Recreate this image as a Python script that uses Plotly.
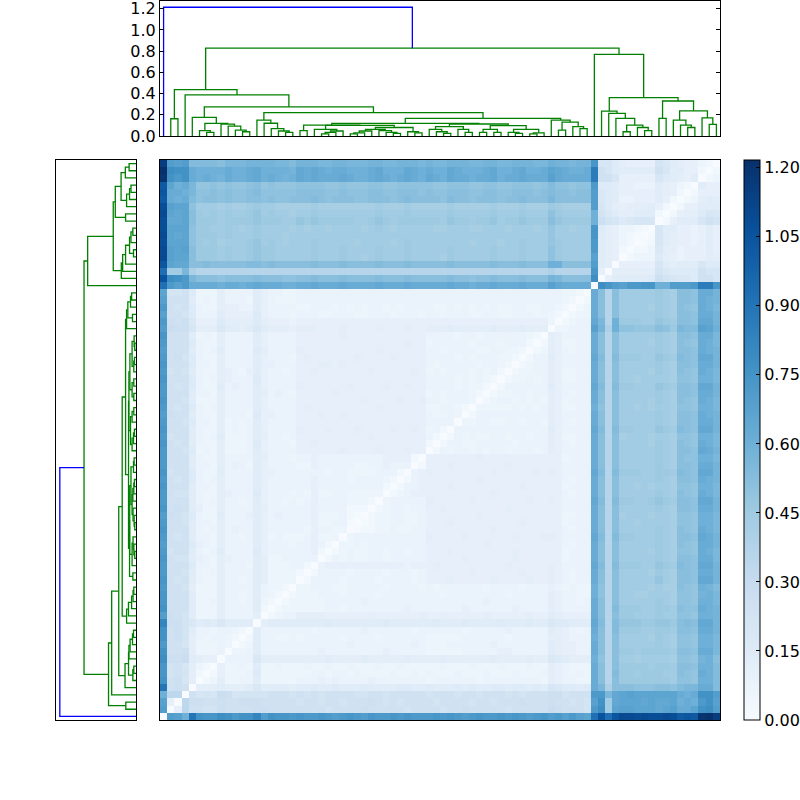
import plotly.graph_objects as go

# ---------- data ----------
LEVEL_CHARS = "0123456789abcdefghijklmnopqrstuvwxyzABCDEFGHIJKLMNOPQRSTUVWXYZ"
LEVEL_STEP = 0.02
GROUP_ENDS = [1, 4, 13, 19, 37, 54, 60, 61, 69, 78]
# upper triangle of the distance matrix, one row per leaf, columns from the diagonal onward
MATRIX_ROWS = [
"0 zyu JCBBDCACC FzCBBA BAABAzABAzBAABABAA ABABAzABAABABAzAB zAyAyx K RKQTTSTS STSPQPYZW",
"05h ccbbdcccc ddcccc ccccbccccdcccccbcc ccbccdcccccbccccc edcccb A Dmxyyxxx wxyvvxCDz",
"0h ddccdccdd dccccc bccbccbcccdcbcbccc cbccccbccbcccdccc dccbcb y Cmwxxxwx wwxuvuACy",
"0 cabaedabb bbcccb cbcbccccbbccbccccc bcccbccbcccbcbccc ddbccc A Aswxyxxx xxxvuvCCz",
"066676667 977776 778778777877778877 87778787788788787 a98878 v skqqqppp qqprssvvr",
"02363344 733333 444545444454444444 34444443444444443 654433 v qiqnnnnn nnmppouur",
"0253334 833333 334434434333343343 43334333433343334 654343 v qirnnmnn nmmqpovur",
"053343 733433 343343343334334333 33433343334333433 654333 v qiqnnnnm nnmqqpuur",
"04444 966666 666676666766666766 66766666676666766 987666 u piqmmlmm mmlppotuq",
"0334 744444 444544444444544444 33333444445544444 765544 v qiqnnmnn nnmqqpvvs",
"023 744444 444444454444444454 33344444454444444 765544 v qiqmmmmm nmlppouus",
"02 744334 344444344443444444 33333444444344444 665444 u qiqmmmml nmlppouus",
"0 744444 443444444544444434 44444344444544444 765434 v qirnnnmm nnmqqpvvt",
"067777 777787777777877777 78777877778777877 988777 w rirooonn oonqrqwwt",
"02344 666655555565555556 55655555655555655 765555 v qiqnnmmm nmmppouut",
"0233 333344344444444544 44444544444454444 654444 v qirnnnmm nnmqppvut",
"023 333344444544444444 44444444544444444 654434 v qiqmmmmm nmlppouus",
"02 333444344443444444 44344444444344444 654433 u piqmmllm mmlppotus",
"0 334443344444344443 43444444344443444 543433 u piqmmmml mllqpoutr",
"024444344443444434 55565555565555655 654344 v qiqmmmmm omlqqpwwt",
"02444434444344434 55555565555556555 654344 v qiqmmmml nmlqqpvvt",
"0455555555555455 56555555555655555 654444 w rirnnnmm onmrqpwwt",
"024343344344444 55555655555565555 553444 v qiqmmmmm nmlqqpvvs",
"02343344344344 55565555555565555 553444 v qiqmmmml nmlppovus",
"0334344444444 55555555655555555 554344 v qiqmmmmm nmlqpovvt",
"034444444444 65555655555565556 654444 w rirnnmmm nmlqqpwvt",
"01223343344 55555555565555555 554344 v qiqmmmmm nmlqpovus",
"0123344334 55565555555556555 553444 v qiqmmlmm mmlppouus",
"023344334 55555556555555555 553344 v qiqlmmml mmlppouus",
"02344344 55655555555655555 554444 v qiqmmmmm nmlqqpvvt",
"0344444 65555565555555655 654444 w rirnnmmn onmqqpwwt",
"023455 55555555565555555 554344 v qiqmmmmm nmlqpovus",
"02445 55565555555556555 553444 v qiqmmlml mmlppouus",
"0245 55555556555555555 554344 v qiqmmmmm nmlqqpvut",
"045 65555555565555565 654444 w rirnnnmm nnmrqpwwt",
"02 55565555555655555 554444 v qiqmmmmm nmlqqpvvt",
"0 55555556555555555 553444 v qiqmmmmm nmlqppuus",
"02434434344344434 654444 v qiqmmmmm nmlqqpwvt",
"0244334444434444 654344 v qiqmmmml nmlqpovus",
"024343344344344 653344 v qiqlmmml mmlppouus",
"04444444444444 754444 w rirnnmmm onmrqpwwt",
"0334433443443 654344 v qiqmmmmm nmlqqpvvt",
"024444444444 654444 v qiqmmmmm nmlqqpvut",
"03333343434 653344 u piqmmlml mmlppouus",
"0234434343 653444 v qiqmmmml nmlqpovus",
"023344344 654344 v qiqmmmmm nmlqqpvvt",
"02444444 754444 w rirnnmmm onmqqpwwt",
"0233434 653344 v qiqmmlmm mmlppouus",
"023344 653344 v qiqmmmml nmlqpovus",
"02344 654444 v qiqmmmmm nmlqqpvvt",
"0244 754444 w rirnnnmm onmrqpwwt",
"023 654344 v qiqmmmmm nmlqqpvut",
"02 653344 v qiqmmmml nmlqpovus",
"0 654444 v qiqmmmmm nmlqqpvvs",
"033444 y tkuppooo qpnsrryxu",
"02344 w siunnnmm onmqqpwwt",
"0233 v qiqmmmmm nmlqqpvvt",
"023 v qiqmmmml nmlqpovus",
"02 v qiqmmmmm nmlqqpvut",
"0 v qiqmmmmm nmlqqpvvt",
"0 DBzyAABB uuzzzAHHB",
"05777778 dba998cca",
"0666666 b98888caa",
"055555 a76777a88",
"02333 865455576",
"0223 966455575",
"012 a76554575",
"01 a76554575",
"0 a77554575",
"025777acb",
"025668a9",
"0255777",
"023676",
"02555",
"0755",
"023",
"02",
"0",
]

LEAF = None
G1 = (0.175, LEAF, (0.119, (0.05, LEAF, (0.035, LEAF, LEAF)),
      (0.1125, LEAF, (0.094, LEAF, (0.056, LEAF, (0.04, LEAF, LEAF))))))
G2 = (0.15, LEAF, (0.12, LEAF, (0.07, LEAF, (0.047, LEAF, (0.035, LEAF, LEAF)))))
G3_N1 = (0.0625, LEAF, (0.047, (0.034, (0.02, LEAF, LEAF), LEAF), LEAF))
G3_N4 = (0.0625, (0.047, (0.03, (0.02, LEAF, LEAF), LEAF), LEAF),
         (0.05, LEAF, (0.035, LEAF, (0.025, LEAF, LEAF))))
G3_N5 = (0.04, LEAF, (0.03, LEAF, LEAF))
G3_A = (0.103, (0.05, LEAF, LEAF), (0.1, G3_N1, (0.08, G3_N4, G3_N5)))
G3_R = (0.0875, (0.0625, LEAF, (0.04, LEAF, (0.025, LEAF, LEAF))),
        (0.0625, LEAF, (0.035, LEAF, LEAF)))
G3_X = (0.097, (0.0625, (0.035, LEAF, LEAF), (0.035, LEAF, LEAF)),
        (0.0625, (0.035, LEAF, (0.025, LEAF, LEAF)), (0.03, (0.02, LEAF, LEAF), LEAF)))
G3 = (0.119, G3_A, (0.113, G3_R, G3_X))
G4 = (0.15, LEAF, (0.13, (0.056, LEAF, LEAF), (0.0875, LEAF, (0.07, LEAF, LEAF))))
MAIN = (0.4375, (0.1625, LEAF, LEAF),
        (0.3875, LEAF, (0.275, G1, (0.22, G2, (0.166, G3, G4)))))
RIGHT_A = (0.234, LEAF, (0.2125, LEAF, (0.166, LEAF,
           (0.103, (0.04, LEAF, LEAF), (0.08, LEAF, (0.05, LEAF, LEAF))))))
RIGHT_B = (0.33, (0.166, LEAF, LEAF), (0.2375,
           (0.15, LEAF, (0.103, LEAF, (0.08, LEAF, LEAF))),
           (0.17, LEAF, (0.11, LEAF, LEAF))))
TREE = (1.214, LEAF, (0.828, MAIN, (0.77, LEAF, (0.3625, RIGHT_A, RIGHT_B))))

TOP_TICKS = [0, 0.2, 0.4, 0.6, 0.8, 1.0, 1.2]
CBAR_TICKS = [0, 0.15, 0.3, 0.45, 0.6, 0.75, 0.9, 1.05, 1.2]
ZMAX = 1.217
BLUES = ["#f7fbff", "#deebf7", "#c6dbef", "#9ecae1", "#6baed6", "#4292c6", "#2171b5", "#08519c", "#08306b"]

# ---------- build ----------
n = len(MATRIX_ROWS)
z = [[0.0] * n for _ in range(n)]
for i, row in enumerate(MATRIX_ROWS):
    parts = row.split()
    ends = [e for e in GROUP_ENDS if e > i]
    cells = ""
    start = i
    parts = parts[-len(ends):] if len(parts) >= len(ends) else parts
    for p, e in zip(parts, ends):
        want = e - start
        cells += (p + p[-1] * want)[:want]
        start = e
    cells = (cells + cells[-1] * n)[:n - i]
    for k, c in enumerate(cells):
        v = LEVEL_CHARS.index(c) * LEVEL_STEP
        z[i][i + k] = v
        z[i + k][i] = v
    z[i][i] = 0.0

counter = [0]
green, blue = ([], []), ([], [])


def walk(node, is_root=False):
    if node is None:
        pos = (counter[0] + 0.5) * 10
        counter[0] += 1
        return pos, 0.0
    h, a, b = node
    pa, ha = walk(a)
    pb, hb = walk(b)
    t = blue if is_root else green
    t[0].extend([pa, pa, pb, pb, None])
    t[1].extend([ha, h, h, hb, None])
    return (pa + pb) / 2, h


walk(TREE, True)
span = counter[0] * 10
HMAX = TREE[0] * 1.05

fig = go.Figure()
fig.add_trace(go.Heatmap(
    z=z, x=list(range(n)), y=list(range(n)), zmin=0, zmax=ZMAX,
    colorscale=[[i / 8, c] for i, c in enumerate(BLUES)], xaxis="x", yaxis="y",
    hoverinfo="skip",
    colorbar=dict(x=744 / 800, xanchor="left", xpad=0, y=0.1, yanchor="bottom", ypad=0,
                  len=0.7, lenmode="fraction", thickness=16, thicknessmode="pixels",
                  tickvals=CBAR_TICKS, ticktext=[f"{t:.2f}" for t in CBAR_TICKS],
                  ticks="inside", ticklen=4, tickcolor="black", tickwidth=1,
                  outlinecolor="black", outlinewidth=1,
                  tickfont=dict(family="DejaVu Sans", size=16, color="black")),
))
for (px, py), color in ((green, "#008000"), (blue, "#0000ff")):
    fig.add_trace(go.Scatter(x=px, y=py, mode="lines", line=dict(color=color, width=1.3),
                             xaxis="x2", yaxis="y2", hoverinfo="skip", showlegend=False))
    fig.add_trace(go.Scatter(x=py, y=px, mode="lines", line=dict(color=color, width=1.3),
                             xaxis="x3", yaxis="y3", hoverinfo="skip", showlegend=False))

frame = dict(showline=True, linecolor="black", linewidth=1, mirror=True, showgrid=False,
             zeroline=False, ticks="", showticklabels=False)
fig.update_layout(
    width=800, height=800, autosize=False,
    margin=dict(l=0, r=0, t=0, b=0, autoexpand=False),
    paper_bgcolor="white", plot_bgcolor="white", showlegend=False,
    xaxis=dict(frame, domain=[0.2, 0.9], range=[-0.5, n - 0.5]),
    yaxis=dict(frame, domain=[0.1, 0.8], range=[-0.5, n - 0.5]),
    xaxis2=dict(frame, domain=[0.2, 0.9], range=[0, span], anchor="y2"),
    yaxis2=dict(frame, domain=[0.83, 0.999], range=[0, HMAX], anchor="x2",
                tickvals=TOP_TICKS, ticktext=[f"{t:.1f}" for t in TOP_TICKS],
                showticklabels=True, ticks="inside", ticklen=4, tickcolor="black",
                mirror="allticks", ticklabeloverflow="allow",
                tickfont=dict(family="DejaVu Sans", size=16, color="black")),
    xaxis3=dict(frame, domain=[0.07, 0.17], range=[HMAX, 0], anchor="y3"),
    yaxis3=dict(frame, domain=[0.1, 0.8], range=[0, span], anchor="x3"),
)
fig.write_html("out.html", config={"displayModeBar": False},
               post_script="document.body.style.margin='0';document.documentElement.style.overflow='hidden';")
